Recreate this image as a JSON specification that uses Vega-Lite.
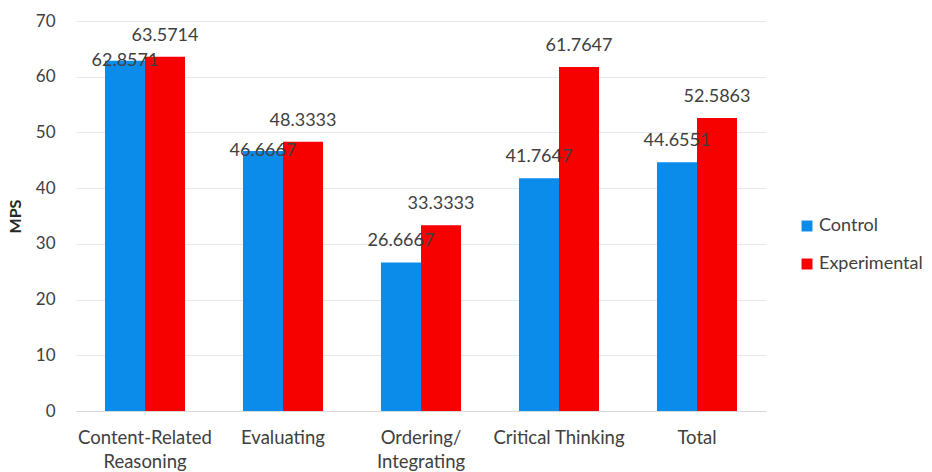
{
  "$schema": "https://vega.github.io/schema/vega-lite/v6.json",
  "autosize": {"type": "none"},
  "width": 690,
  "height": 390,
  "padding": {"left": 76, "top": 21, "right": 166, "bottom": 61},
  "background": "white",
  "config": {
    "font": "Lato",
    "view": {"stroke": null},
    "axis": {"labelFont": "Lato", "titleFont": "Lato"}
  },
  "data": {
    "values": [
      {"category": "Content-Related Reasoning", "group": "Control", "value": 62.8571},
      {"category": "Content-Related Reasoning", "group": "Experimental", "value": 63.5714},
      {"category": "Evaluating", "group": "Control", "value": 46.6667},
      {"category": "Evaluating", "group": "Experimental", "value": 48.3333},
      {"category": "Ordering/Integrating", "group": "Control", "value": 26.6667},
      {"category": "Ordering/Integrating", "group": "Experimental", "value": 33.3333},
      {"category": "Critical Thinking", "group": "Control", "value": 41.7647},
      {"category": "Critical Thinking", "group": "Experimental", "value": 61.7647},
      {"category": "Total", "group": "Control", "value": 44.6551},
      {"category": "Total", "group": "Experimental", "value": 52.5863}
    ]
  },
  "encoding": {
    "x": {
      "field": "category",
      "type": "nominal",
      "sort": null,
      "scale": {"paddingInner": 0.42, "paddingOuter": 0.21},
      "axis": {
        "title": null,
        "labelAngle": 0,
        "ticks": false,
        "domainColor": "#d9d9d9",
        "domainWidth": 1,
        "labelFontSize": 18.5,
        "labelColor": "#404040",
        "labelPadding": 17,
        "labelLineHeight": 24,
        "labelExpr": "datum.value === 'Content-Related Reasoning' ? ['Content-Related', 'Reasoning'] : datum.value === 'Ordering/Integrating' ? ['Ordering/', 'Integrating'] : datum.value"
      }
    },
    "xOffset": {"field": "group", "type": "nominal", "scale": {"paddingInner": 0}},
    "y": {
      "field": "value",
      "type": "quantitative",
      "scale": {"domain": [0, 70], "nice": false},
      "axis": {
        "title": "MPS",
        "titleFontSize": 16,
        "titleFontWeight": "bold",
        "titleColor": "#262626",
        "titlePadding": 12,
        "values": [0, 10, 20, 30, 40, 50, 60, 70],
        "ticks": false,
        "domain": false,
        "labelFontSize": 17,
        "labelColor": "#404040",
        "labelPadding": 21,
        "gridColor": "#e3e8ef",
        "gridWidth": 1
      }
    }
  },
  "layer": [
    {
      "mark": {"type": "bar"},
      "encoding": {
        "color": {
          "field": "group",
          "type": "nominal",
          "scale": {"domain": ["Control", "Experimental"], "range": ["#0b8bea", "#f70000"]},
          "legend": {
            "title": null,
            "orient": "none",
            "legendX": 722,
            "legendY": 196,
            "symbolType": "square",
            "symbolSize": 120,
            "labelFontSize": 18,
            "labelColor": "#404040",
            "labelLimit": 200,
            "rowPadding": 20,
            "labelOffset": 3
          }
        }
      }
    },
    {
      "transform": [
        {"filter": "!(datum.group === 'Control' && (datum.category === 'Content-Related Reasoning' || datum.category === 'Evaluating'))"}
      ],
      "mark": {"type": "text", "dy": -21, "baseline": "middle", "fontSize": 18, "color": "#404040"},
      "encoding": {"text": {"field": "value", "type": "quantitative", "format": ".4f"}}
    },
    {
      "transform": [
        {"filter": "datum.group === 'Control' && (datum.category === 'Content-Related Reasoning' || datum.category === 'Evaluating')"}
      ],
      "mark": {"type": "text", "dy": 0, "baseline": "middle", "fontSize": 18, "color": "#404040"},
      "encoding": {"text": {"field": "value", "type": "quantitative", "format": ".4f"}}
    }
  ]
}
